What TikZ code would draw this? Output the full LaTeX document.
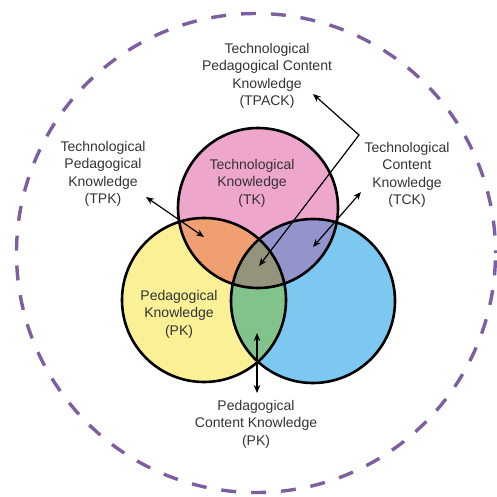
\documentclass[tikz,border=0pt]{standalone}
\usepackage{fontspec}
\setmainfont{Liberation Sans}
\usetikzlibrary{arrows.meta}
\definecolor{cpink}{HTML}{EEA6CC}
\definecolor{cyellow}{HTML}{FAF096}
\definecolor{cblue}{HTML}{7DC8F0}
\definecolor{corange}{HTML}{F0A070}
\definecolor{cpurple}{HTML}{9494CD}
\definecolor{cgreen}{HTML}{82C38C}
\definecolor{cgray}{HTML}{94947C}
\definecolor{cdash}{HTML}{7D5FA0}
\definecolor{txtgray}{HTML}{333333}
\begin{document}
\begin{tikzpicture}[x=1pt,y=-1pt,
  lbl/.style={align=center, font=\fontsize{14}{17.5}\selectfont, text=txtgray, inner sep=0pt},
  ring/.style={draw=black, line width=2.6pt},
  conn/.style={line width=1.2pt, {Stealth[length=8pt,width=6.5pt]}-{Stealth[length=8pt,width=6.5pt]}}]
\useasboundingbox (0,0) rectangle (497,497);
% outer dashed circle
\draw[cdash, line width=3.4pt, dash pattern=on 15pt off 14.9pt, dash phase=22.5pt] (256,253) circle[radius=239.5];
% circle centres
\coordinate (ctk) at (258,208);
\coordinate (cpk) at (204,300);
\coordinate (cck) at (313,301);
% fills
\fill[cyellow] (cpk) circle[radius=82];
\fill[cblue] (cck) circle[radius=82];
\fill[cpink] (ctk) circle[radius=80];
\begin{scope}\clip (ctk) circle[radius=80]; \fill[corange] (cpk) circle[radius=82];\end{scope}
\begin{scope}\clip (ctk) circle[radius=80]; \fill[cpurple] (cck) circle[radius=82];\end{scope}
\begin{scope}\clip (cpk) circle[radius=82]; \fill[cgreen] (cck) circle[radius=82];\end{scope}
\begin{scope}\clip (ctk) circle[radius=80]; \clip (cpk) circle[radius=82]; \fill[cgray] (cck) circle[radius=82];\end{scope}
% outlines
\draw[ring] (cpk) circle[radius=82];
\draw[ring] (cck) circle[radius=82];
\draw[ring] (ctk) circle[radius=80];
% labels
\node[lbl] (tpack) at (267,76) {Technological\\Pedagogical Content\\Knowledge\\(TPACK)};
\node[lbl] (tpk) at (103,174) {Technological\\Pedagogical\\Knowledge\\(TPK)};
\node[lbl] (tck) at (407,175) {Technological\\Content\\Knowledge\\(TCK)};
\node[lbl] (tk) at (252,183) {Technological\\Knowledge\\(TK)};
\node[lbl] (pk) at (179,314) {Pedagogical\\Knowledge\\(PK)};
\node[lbl] (pck) at (256,424) {Pedagogical\\Content Knowledge\\(PK)};
% connector end points
\coordinate (tpkA) at (146,197);
\coordinate (tpkB) at (204,237);
\coordinate (tckA) at (361,192);
\coordinate (tckB) at (313,247);
\coordinate (tpackA) at (313,94);
\coordinate (tpackK) at (359,135);
\coordinate (tpackB) at (259,266);
\coordinate (pckA) at (257,333);
\coordinate (pckB) at (257,393);
% connectors
\draw[conn] (tpkA) -- (tpkB);
\draw[conn] (tckA) -- (tckB);
\draw[conn] (tpackA) -- (tpackK) -- (tpackB);
\draw[conn] (pckA) -- (pckB);
\end{tikzpicture}
\end{document}
